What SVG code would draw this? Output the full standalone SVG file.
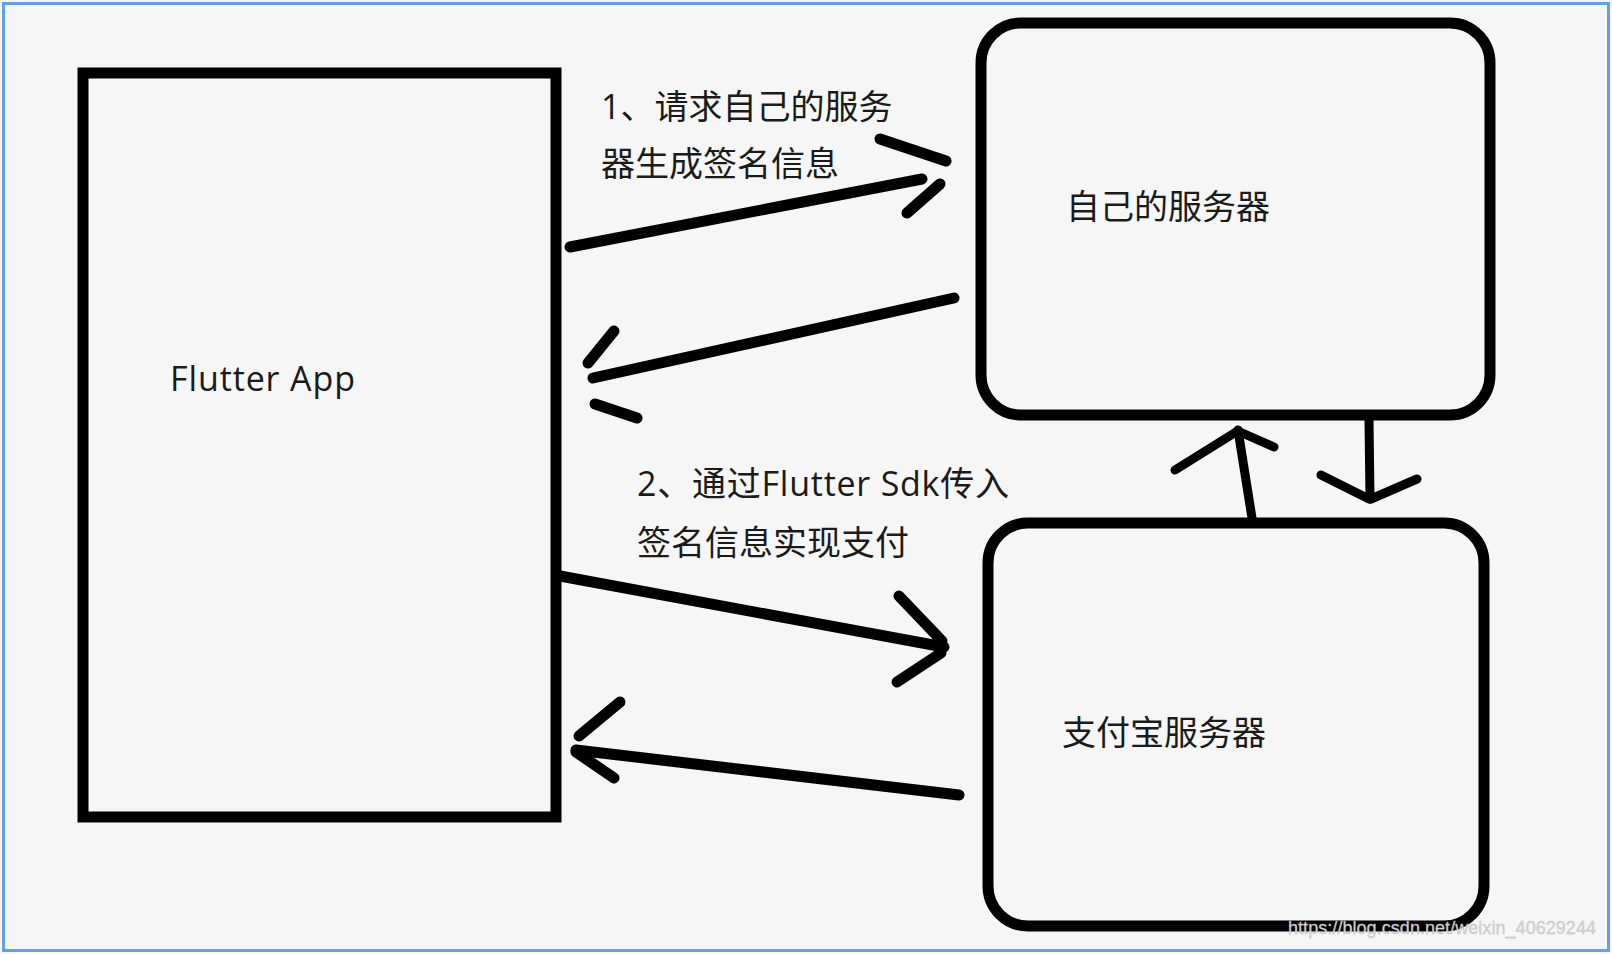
<svg xmlns="http://www.w3.org/2000/svg" width="1612" height="954" viewBox="0 0 1612 954">
  <style>
    .box { fill: none; stroke: #000; stroke-width: 11; }
    .lbl { font-family: "Open Sans", "Noto Sans CJK SC", sans-serif; font-size: 34px; fill: #1a1a1a; }
    .arr { fill: none; stroke: #000; stroke-width: 11; stroke-linecap: round; stroke-linejoin: round; }
    .arr2 { fill: none; stroke: #000; stroke-width: 9; stroke-linecap: round; stroke-linejoin: round; }
  </style>
  <rect x="0" y="0" width="1612" height="954" fill="#f6f6f6"/>
  <rect x="3.5" y="3.5" width="1605" height="947" fill="none" stroke="#62a0ea" stroke-width="3"/>

  <g id="flutter-app">
    <rect class="box" x="83" y="73" width="473" height="744"/>
    <text class="lbl" x="170" y="391" textLength="185">Flutter App</text>
  </g>

  <g id="own-server">
    <rect class="box" x="981" y="23" width="509" height="392" rx="40" ry="40"/>
    <text class="lbl" x="1066" y="219">自己的服务器</text>
  </g>

  <g id="alipay-server">
    <rect class="box" x="988" y="523" width="496" height="403" rx="40" ry="40"/>
    <text class="lbl" x="1062" y="745">支付宝服务器</text>
  </g>

  <g id="connectors">
    <!-- App -> own server -->
    <path class="arr" d="M570,247 L922,179"/>
    <path class="arr" d="M880,139 L946,161"/>
    <path class="arr" d="M940,184 L907,213"/>
    <!-- own server -> App -->
    <path class="arr" d="M954,298 L593,378"/>
    <path class="arr" d="M614,331 L588,363"/>
    <path class="arr" d="M595,404 L637,418"/>
    <!-- App -> Alipay -->
    <path class="arr" d="M560,576 L944,647"/>
    <path class="arr" d="M899,596 L942,641"/>
    <path class="arr" d="M941,653 L897,682"/>
    <!-- Alipay -> App -->
    <path class="arr" d="M959,795 L576,750"/>
    <path class="arr" d="M620,702 L579,736"/>
    <path class="arr" d="M576,752 L614,778"/>
    <!-- Alipay -> own server (up) -->
    <path class="arr2" d="M1252,518 L1238,430"/>
    <path class="arr2" d="M1175,470 L1236,432"/>
    <path class="arr2" d="M1240,432 L1274,447"/>
    <!-- own server -> Alipay (down) -->
    <path class="arr2" d="M1369,420 L1370,499"/>
    <path class="arr2" d="M1321,475 L1369,499"/>
    <path class="arr2" d="M1417,479 L1371,499"/>

    <text class="lbl" x="601" y="119">1、请求自己的服务</text>
    <text class="lbl" x="601" y="176">器生成签名信息</text>
    <text class="lbl" x="637" y="496" textLength="372">2、通过Flutter Sdk传入</text>
    <text class="lbl" x="637" y="555">签名信息实现支付</text>
  </g>

  <text x="1288" y="934" textLength="308" font-family="Liberation Sans, Arial, sans-serif" font-size="18" fill="#d4d4d4" stroke="#bdbdbd" stroke-width="0.3">https://blog.csdn.net/weixin_40629244</text>
</svg>
